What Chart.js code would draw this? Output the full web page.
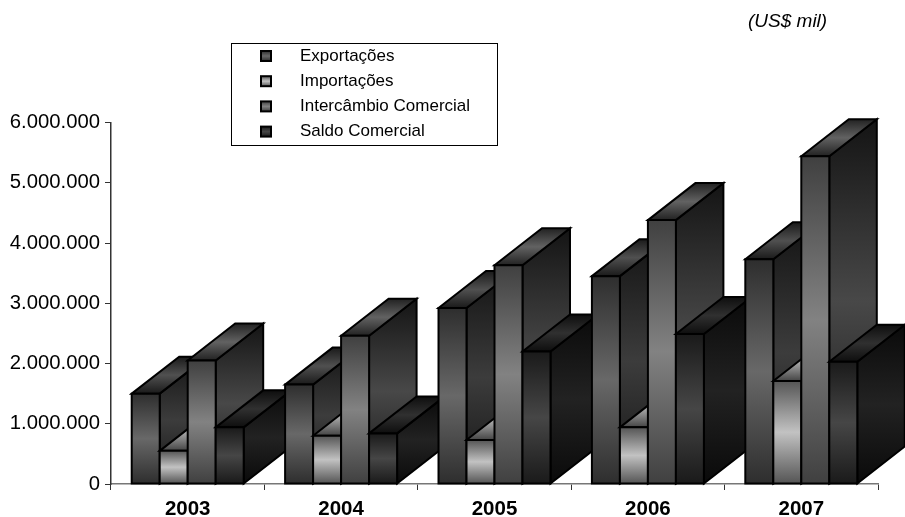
<!DOCTYPE html>
<html>
<head>
<meta charset="utf-8">
<style>
  html, body { margin: 0; padding: 0; background: #fff; }
  canvas { display: block; }
</style>
<script src="https://cdn.jsdelivr.net/npm/chart.js@4"></script>
</head>
<body>
<canvas id="chart" width="905" height="517"></canvas>
<script>
const years = ['2003', '2004', '2005', '2006', '2007']
const seriesNames = ['Exportações', 'Importações', 'Intercâmbio Comercial', 'Saldo Comercial']

const exportacoes = [1500000, 1650000, 2920000, 3450000, 3730000]
const importacoes = [550000, 800000, 730000, 940000, 1710000]
const intercambio = [2050000, 2460000, 3630000, 4380000, 5440000]
const saldo = [940000, 840000, 2200000, 2490000, 2030000]

// [edge, middle] grey of each face, per series
const frontGreys = [['#2e2e2e', '#686868'], ['#555555', '#c2c2c2'], ['#404040', '#828282'], ['#1a1a1a', '#464646']]
const topGreys = [['#1a1a1a', '#505050'], ['#444444', '#a8a8a8'], ['#222222', '#626262'], ['#0e0e0e', '#303030']]
const sideGreys = [['#141414', '#3c3c3c'], ['#222222', '#666666'], ['#141414', '#484848'], ['#0a0a0a', '#222222']]

const DEPTH_X = 47.5
const DEPTH_Y = 37

function grad(ctx, y0, y1, greys) {
  const g = ctx.createLinearGradient(0, y0, 0, y1)
  g.addColorStop(0, greys[0])
  g.addColorStop(0.5, greys[1])
  g.addColorStop(1, greys[0])
  return g
}

function face(ctx, pts, fill) {
  ctx.beginPath()
  pts.forEach((p, i) => (i ? ctx.lineTo(p[0], p[1]) : ctx.moveTo(p[0], p[1])))
  ctx.closePath()
  ctx.fillStyle = fill
  ctx.fill()
  ctx.stroke()
}

// draws the extruded boxes from the bar elements, left to right so they overlap like the original
const bars3d = {
  id: 'bars3d',
  afterDatasetsDraw(chart) {
    const ctx = chart.ctx
    ctx.save()
    ctx.strokeStyle = '#000'
    ctx.lineWidth = 2
    ctx.lineJoin = 'miter'
    years.forEach((_, c) => {
      seriesNames.forEach((_, d) => {
        const bar = chart.getDatasetMeta(d).data[c]
        const l = bar.x - bar.width / 2
        const r = bar.x + bar.width / 2
        const t = bar.y
        const b = bar.base
        face(ctx, [[r, t], [r + DEPTH_X, t - DEPTH_Y], [r + DEPTH_X, b - DEPTH_Y], [r, b]],
          grad(ctx, t - DEPTH_Y, b, sideGreys[d]))
        face(ctx, [[l, t], [l + DEPTH_X, t - DEPTH_Y], [r + DEPTH_X, t - DEPTH_Y], [r, t]],
          grad(ctx, t - DEPTH_Y, t, topGreys[d]))
        face(ctx, [[l, t], [r, t], [r, b], [l, b]], grad(ctx, t, b, frontGreys[d]))
      })
    })
    ctx.restore()
  },
}

const legendBox = {
  id: 'legendBox',
  afterDraw(chart) {
    const ctx = chart.ctx
    ctx.save()
    ctx.fillStyle = '#fff'
    ctx.strokeStyle = '#000'
    ctx.lineWidth = 1
    ctx.fillRect(231.5, 43.5, 266, 102)
    ctx.strokeRect(231.5, 43.5, 266, 102)
    ctx.textBaseline = 'middle'
    ctx.font = '17px "Liberation Sans", Arial, sans-serif'
    chart.data.datasets.forEach((ds, i) => {
      const y = 56 + i * 25.2
      ctx.lineWidth = 2
      ctx.fillStyle = grad(ctx, y - 5, y + 5, frontGreys[i])
      ctx.fillRect(261, y - 5, 10, 10)
      ctx.strokeRect(261, y - 5, 10, 10)
      ctx.fillStyle = '#000'
      ctx.fillText(ds.label, 300, y)
    })
    ctx.font = 'italic 19px "Liberation Sans", Arial, sans-serif'
    ctx.fillText('(US$ mil)', 748, 22)
    ctx.restore()
  },
}

new Chart(document.getElementById('chart'), {
  type: 'bar',
  data: {
    labels: years,
    datasets: [
      { label: seriesNames[0], data: exportacoes, backgroundColor: '#555555' },
      { label: seriesNames[1], data: importacoes, backgroundColor: '#aaaaaa' },
      { label: seriesNames[2], data: intercambio, backgroundColor: '#666666' },
      { label: seriesNames[3], data: saldo, backgroundColor: '#333333' },
    ],
  },
  plugins: [bars3d, legendBox],
  options: {
    responsive: false,
    animation: false,
    layout: { padding: { top: 122.5, right: 27, left: 0, bottom: 0 } },
    datasets: { bar: { categoryPercentage: 0.73, barPercentage: 1 } },
    scales: {
      x: {
        afterFit: (s) => { s.height = 33 },
        border: { color: '#777777', width: 1.5 },
        grid: { drawOnChartArea: false, color: '#333333', tickLength: 6, offset: true },
        ticks: {
          color: '#000',
          padding: 7,
          maxRotation: 0,
          font: { family: '"Liberation Sans", Arial, sans-serif', size: 20.5, weight: 'bold' },
        },
      },
      y: {
        min: 0,
        max: 6000000,
        afterFit: (s) => { s.width = 111 },
        border: { color: '#333333', width: 1.5 },
        grid: { drawOnChartArea: false, color: '#333333', tickLength: 6 },
        ticks: {
          stepSize: 1000000,
          color: '#000',
          padding: 5,
          font: { family: '"Liberation Sans", Arial, sans-serif', size: 20.3 },
          callback: (v) => String(v).replace(/\B(?=(\d{3})+$)/g, '.'),
        },
      },
    },
    plugins: {
      legend: { display: false },
      tooltip: { enabled: false },
    },
  },
})
</script>
</body>
</html>
